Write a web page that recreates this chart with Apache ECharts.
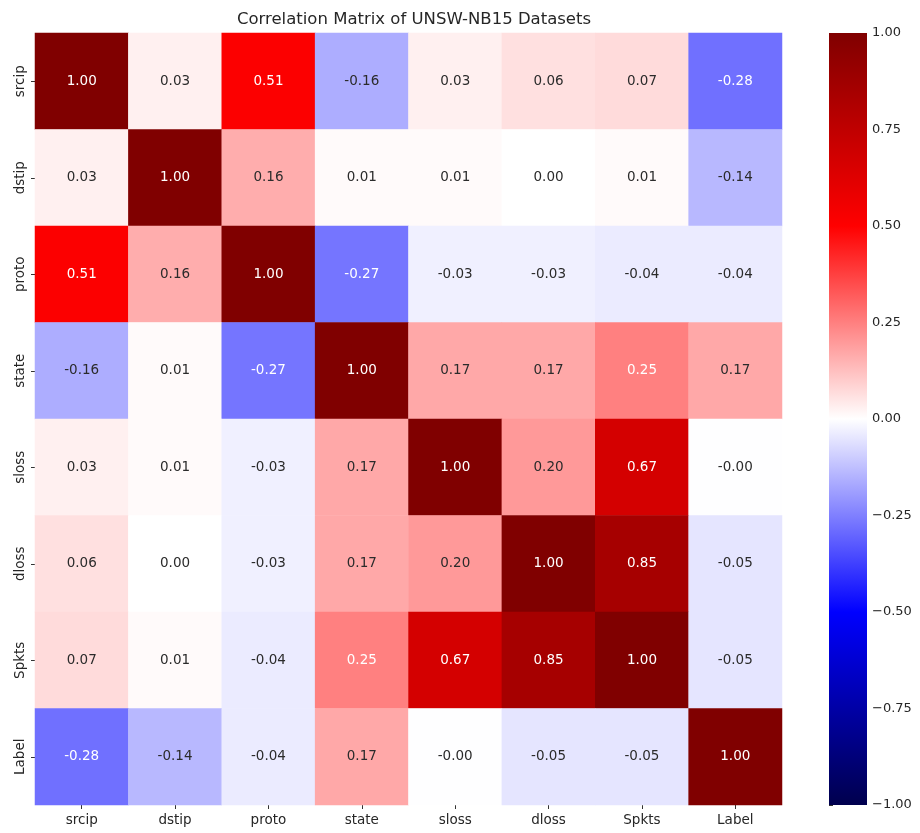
<!DOCTYPE html>
<html>
<head>
<meta charset="utf-8">
<script src="https://cdn.jsdelivr.net/npm/echarts@6/dist/echarts.min.js"></script>
<style>
  html, body { margin: 0; padding: 0; background: #fff; }
  #chart { width: 920px; height: 833px; }
</style>
</head>
<body>
<div id="chart"></div>
<script>
// Feature names (rows top-to-bottom, columns left-to-right)
const features = ['srcip', 'dstip', 'proto', 'state', 'sloss', 'dloss', 'Spkts', 'Label'];

// Correlation coefficients, one row per feature
const rowSrcip = [1.00, 0.03, 0.51, -0.16, 0.03, 0.06, 0.07, -0.28];
const rowDstip = [0.03, 1.00, 0.16, 0.01, 0.01, 0.00, 0.01, -0.14];
const rowProto = [0.51, 0.16, 1.00, -0.27, -0.03, -0.03, -0.04, -0.04];
const rowState = [-0.16, 0.01, -0.27, 1.00, 0.17, 0.17, 0.25, 0.17];
const rowSloss = [0.03, 0.01, -0.03, 0.17, 1.00, 0.20, 0.67, -0.002];
const rowDloss = [0.06, 0.00, -0.03, 0.17, 0.20, 1.00, 0.85, -0.05];
const rowSpkts = [0.07, 0.01, -0.04, 0.25, 0.67, 0.85, 1.00, -0.05];
const rowLabel = [-0.28, -0.14, -0.04, 0.17, -0.002, -0.05, -0.05, 1.00];

const matrix = [rowSrcip, rowDstip, rowProto, rowState, rowSloss, rowDloss, rowSpkts, rowLabel];

// Colour-bar tick values
const cbarTicks = [-1.00, -0.75, -0.50, -0.25, 0.00, 0.25, 0.50, 0.75, 1.00];

// Diverging "seismic" palette: anchors at -1, -0.5, 0, 0.5, 1
const seismic = [[0, 0, 77], [0, 0, 255], [255, 255, 255], [255, 0, 0], [128, 0, 0]];

function seismicColor(v) {
  const t = (Math.max(-1, Math.min(1, v)) + 1) / 2 * 4;
  const i = Math.min(3, Math.floor(t));
  const f = t - i;
  const a = seismic[i], b = seismic[i + 1];
  return a.map((c, k) => c + (b[k] - c) * f);
}

function luminance(rgb) {
  const lin = rgb.map(c => {
    c = c / 255;
    return c <= 0.03928 ? c / 12.92 : Math.pow((c + 0.055) / 1.055, 2.4);
  });
  return 0.2126 * lin[0] + 0.7152 * lin[1] + 0.0722 * lin[2];
}

// Colour-bar labels use a typographic minus sign
function fmt(v) {
  return v.toFixed(2).replace('-', '\u2212');
}

// Cell annotations keep a plain hyphen
function fmtCell(v) {
  return v.toFixed(2);
}

const heatData = [];
matrix.forEach((row, r) => {
  row.forEach((v, c) => {
    const lum = luminance(seismicColor(v));
    heatData.push({
      value: [c, r, v],
      label: { color: lum > 0.408 ? '#2b2b2b' : '#ffffff' }
    });
  });
});

const toRgb = c => 'rgb(' + c.map(Math.round).join(',') + ')';

const chart = echarts.init(document.getElementById('chart'), null, { renderer: 'canvas' });

const FONT = 'DejaVu Sans';
const TEXT = '#262626';

chart.setOption({
  backgroundColor: '#ffffff',
  animation: false,
  textStyle: { fontFamily: FONT },
  title: {
    text: 'Correlation Matrix of UNSW-NB15 Datasets',
    left: 409,
    textAlign: 'center',
    top: 6,
    textStyle: { fontFamily: FONT, fontSize: 16.5, fontWeight: 'normal', color: TEXT }
  },
  grid: [
    { left: 35, top: 33, width: 747, height: 772 },
    { left: 829, top: 33, width: 38, height: 772 }
  ],
  xAxis: [
    {
      type: 'category',
      gridIndex: 0,
      data: features,
      position: 'bottom',
      axisLine: { show: false },
      axisTick: { show: true, alignWithLabel: true, length: 4, lineStyle: { color: '#333' } },
      axisLabel: { fontFamily: FONT, fontSize: 13.5, color: TEXT, margin: 8 },
      splitLine: { show: false }
    },
    {
      type: 'value',
      gridIndex: 1,
      min: 0,
      max: 1,
      show: false
    }
  ],
  yAxis: [
    {
      type: 'category',
      gridIndex: 0,
      data: features,
      inverse: true,
      axisLine: { show: false },
      axisTick: { show: true, alignWithLabel: true, length: 4, lineStyle: { color: '#333' } },
      axisLabel: { fontFamily: FONT, fontSize: 13.5, color: TEXT, rotate: 90, margin: 8 },
      splitLine: { show: false }
    },
    {
      type: 'value',
      gridIndex: 1,
      position: 'right',
      min: -1,
      max: 1,
      interval: 0.25,
      axisLine: { show: false },
      axisTick: { show: true, length: 4, lineStyle: { color: '#333' } },
      axisLabel: {
        fontFamily: FONT, fontSize: 13, color: TEXT, margin: 5,
        formatter: v => fmt(v)
      },
      splitLine: { show: false }
    }
  ],
  visualMap: {
    show: false,
    type: 'continuous',
    seriesIndex: 0,
    dimension: 2,
    min: -1,
    max: 1,
    inRange: { color: seismic.map(toRgb) }
  },
  series: [
    {
      type: 'heatmap',
      xAxisIndex: 0,
      yAxisIndex: 0,
      data: heatData,
      label: {
        show: true,
        fontFamily: FONT,
        fontSize: 13.5,
        formatter: p => fmtCell(p.value[2])
      },
      itemStyle: { borderWidth: 0 },
      emphasis: { disabled: true }
    },
    {
      // Colour bar drawn as one gradient rectangle spanning the value axis
      type: 'custom',
      xAxisIndex: 1,
      yAxisIndex: 1,
      data: [[0, cbarTicks[cbarTicks.length - 1]]],
      silent: true,
      renderItem: (params, api) => {
        const top = api.coord([0, cbarTicks[cbarTicks.length - 1]]);
        const bottom = api.coord([1, cbarTicks[0]]);
        const stops = seismic.slice().reverse().map((c, i) => ({ offset: i / 4, color: toRgb(c) }));
        return {
          type: 'rect',
          shape: { x: top[0], y: top[1], width: bottom[0] - top[0], height: bottom[1] - top[1] },
          style: { fill: new echarts.graphic.LinearGradient(0, 0, 0, 1, stops) }
        };
      }
    }
  ]
});
</script>
</body>
</html>
